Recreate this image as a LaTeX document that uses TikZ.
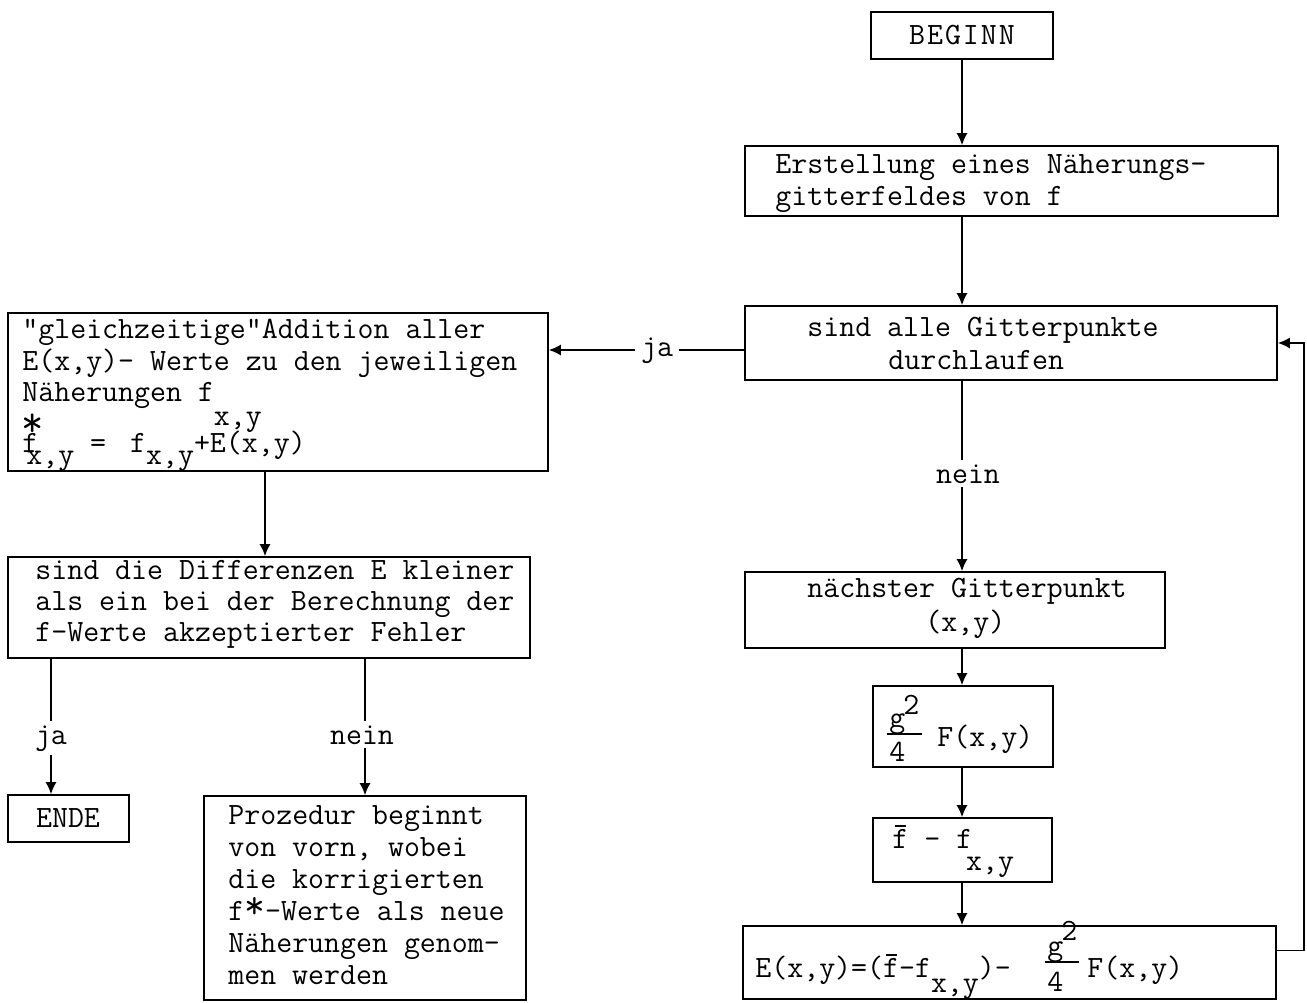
\documentclass[tikz,border=0pt]{standalone}
\usepackage{amsmath}
\usepackage{graphicx}
\usetikzlibrary{fit,arrows.meta}

% typewriter text used throughout
\newcommand\tyfont{\fontsize{15.5}{15.5}\selectfont\ttfamily}
% lowered index in typewriter style
\newcommand\lo[2][7.5pt]{\raisebox{-#1}{#2}}
% f with a bar on top
\newcommand\fbar{\leavevmode\rlap{\kern1.5pt\raisebox{10.5pt}{\rule{5.5pt}{0.8pt}}}f}
% large raised asterisk
\newcommand\astk{\raisebox{8pt}{\scalebox{1.4}{*}}}

\begin{document}
\begin{tikzpicture}[x=0.5pt,y=-0.5pt,
  box/.style={draw, line width=0.8pt, inner sep=0pt, rectangle},
  txt/.style={anchor=base west, inner sep=0pt, font=\tyfont},
  lbl/.style={anchor=base, fill=white, inner xsep=3pt, inner ysep=2pt, font=\tyfont},
  arr/.style={line width=0.8pt, -{Latex[length=6pt,width=5.5pt]}},
  bar/.style={line width=1pt}]

\fill[white] (0,0) rectangle (1307,1002);
\useasboundingbox (0,0) rectangle (1307,1002);

% ---- boxes ----
\node[box, fit={(871,12) (1053,59)}]    (begin) {};
\node[box, fit={(745,146) (1278,216)}]  (erst) {};
\node[box, fit={(745,306) (1277,380)}]  (sind) {};
\node[box, fit={(745,572) (1165,648)}]  (next) {};
\node[box, fit={(873,686) (1053,767)}]  (gq) {};
\node[box, fit={(873,818) (1052,882)}]  (fdiff) {};
\node[box, fit={(743,926) (1276,999)}]  (err) {};
\node[box, fit={(8,313) (548,471)}]     (add) {};
\node[box, fit={(8,557) (530,658)}]     (test) {};
\node[box, fit={(8,795) (129,842)}]     (ende) {};
\node[box, fit={(204,796) (526,1000)}]  (restart) {};

% ---- texts, right column ----
\node[anchor=base, inner sep=0pt, font=\tyfont] (tBegin) at (962,44)
  {B\kern1pt E\kern1pt G\kern1pt I\kern1pt N\kern1pt N};
\node[txt] (tErst1) at (775,173) {Erstellung eines Näherungs-};
\node[txt] (tErst2) at (775,205) {gitterfeldes von f};
\node[txt] (tSind1) at (807,336) {sind alle Gitterpunkte};
\node[txt] (tSind2) at (888,369) {durchlaufen};
\node[txt] (tNext1) at (807,597) {nächster Gitterpunkt};
\node[txt] (tNext2) at (925,631) {(x,y)};

\node[txt] (gqG) at (889,727) {g};
\node[txt] (gqTwo) at (903,714) {2};
\node[txt] (gqFour) at (889,761) {4};
\draw[bar] (887,734) -- (922,734);
\node[txt] (gqF) at (937,746) {F(x,y)};

\node[txt] (tFd) at (892,848) {\fbar{} - f\kern-3pt\lo[11pt]{x,y}};

\node[txt] (tErr) at (755,977) {E(x,y)=(\fbar-f\lo{x,y})-};
\node[txt] (errG) at (1047,955) {g};
\node[txt] (errTwo) at (1061,940) {2};
\node[txt] (errFour) at (1047,991) {4};
\draw[bar] (1045,962) -- (1079,962);
\node[txt] (errF) at (1087,977) {F(x,y)};

% ---- texts, left column ----
\node[txt] (tAdd1) at (22,338) {"gleichzeitige"Addition aller};
\node[txt] (tAdd2) at (22,370) {E(x,y)- Werte zu den jeweiligen};
\node[txt] (tAdd3) at (22,401) {Näherungen f\lo[12pt]{x,y}};
\node[txt] (tAdd4) at (22,452)
  {f\rlap{\kern-8.5pt\astk}\kern-6pt\lo[6pt]{x,y} =\kern4pt{} f\lo[6pt]{x,y}+E(x,y)};

\node[txt] (tTest1) at (35,579) {sind die Differenzen E kleiner};
\node[txt] (tTest2) at (35,610) {als ein bei der Berechnung der};
\node[txt] (tTest3) at (35,641) {f-Werte akzeptierter Fehler};

\node[anchor=base, inner sep=0pt, font=\tyfont] (tEnde) at (68,827) {ENDE};

\node[txt] (tRe1) at (228,824) {Prozedur beginnt};
\node[txt] (tRe2) at (228,856) {von vorn, wobei};
\node[txt] (tRe3) at (228,888) {die korrigierten};
\node[txt] (tRe4) at (228,920) {f\raisebox{1pt}{\scalebox{1.3}{*}}-Werte als neue};
\node[txt] (tRe5) at (228,952) {Näherungen genom-};
\node[txt] (tRe6) at (228,984) {men werden};

% ---- connectors ----
\coordinate (mainX) at (962,0);
\coordinate (jaX) at (51,0);
\coordinate (neinX) at (365,0);
\coordinate (addX) at (265,0);

\draw[arr] (begin.south -| mainX) -- (erst.north -| mainX);
\draw[arr] (erst.south -| mainX) -- (sind.north -| mainX);
\draw[arr] (sind.south -| mainX) -- (next.north -| mainX);
\draw[arr] (next.south -| mainX) -- (gq.north -| mainX);
\draw[arr] (gq.south -| mainX) -- (fdiff.north -| mainX);
\draw[arr] (fdiff.south -| mainX) -- (err.north -| mainX);
\draw[arr] ([yshift=6pt]err.east) -- ++(27,0) |- (sind.east);
\draw[arr] ([yshift=-3.5pt]sind.west) -- ([yshift=-3.5pt]sind.west -| add.east);
\draw[arr] (add.south -| addX) -- (test.north -| addX);
\draw[arr] (test.south -| jaX) -- (ende.north -| jaX);
\draw[arr] (test.south -| neinX) -- (restart.north -| neinX);

% ---- branch labels ----
\node[lbl] (lJa1) at (657,356) {ja};
\node[lbl] (lNein1) at (968,483) {nein};
\node[lbl] (lJa2) at (51,744) {ja};
\node[lbl] (lNein2) at (362,744) {nein};
\end{tikzpicture}
\end{document}
